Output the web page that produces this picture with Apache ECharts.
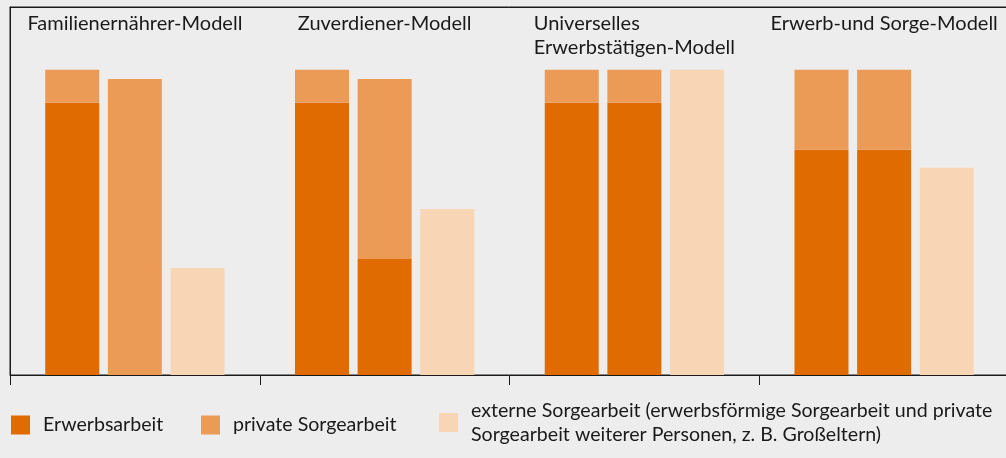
<!DOCTYPE html>
<html>
<head>
<meta charset="utf-8">
<script src="https://cdn.jsdelivr.net/npm/echarts@6/dist/echarts.min.js"></script>
<style>
html,body{margin:0;padding:0;background:#ededed;}
#c{width:1006px;height:458px;}
</style>
</head>
<body>
<div id="c"></div>
<script>
const categories = ['Familienernährer-Modell', 'Zuverdiener-Modell', 'Universelles\nErwerbstätigen-Modell', 'Erwerb-und Sorge-Modell'];
const seriesNames = ['Erwerbsarbeit', 'private Sorgearbeit', 'externe Sorgearbeit (erwerbsförmige Sorgearbeit und private\nSorgearbeit weiterer Personen, z. B. Großeltern)'];
// Bar 1 of each group (stacked)
const erwerb1 = [89.2, 89.2, 89.2, 73.8];
const privat1 = [10.8, 10.8, 10.8, 26.2];
// Bar 2 of each group (stacked)
const erwerb2 = [null, 38.0, 89.2, 73.8];
const privat2 = [97.0, 59.0, 10.8, 26.2];
// Bar 3 of each group
const extern3 = [35.1, 54.4, 100, 67.9];

const C_ERW = '#e06b00', C_PRIV = '#ec9b57', C_EXT = '#f8d5b5';
const TXT = '#1a1a1a';
const FONT = 'Lato';
const LFS = 19.6;

const chart = echarts.init(document.getElementById('c'), null, {renderer: 'canvas'});

function legendAt(left, top, name, color, pad) {
  return {
    show: true, left: left, top: top, orient: 'horizontal', padding: 0,
    itemWidth: 19, itemHeight: 19, itemGap: 0, selectedMode: false,
    icon: 'rect',
    data: [{name: name, itemStyle: {color: color}}],
    textStyle: {fontFamily: FONT, fontSize: LFS, color: TXT, padding: pad, lineHeight: 24}
  };
}

const barCommon = {type: 'bar', barWidth: 54, barGap: '16%', emphasis: {disabled: true}, animation: false};

chart.setOption({
  backgroundColor: '#ededed',
  animation: false,
  textStyle: {fontFamily: FONT},
  grid: {left: 10, top: 7, width: 999, height: 368, outerBoundsMode: 'none', containLabel: false,
         show: true, backgroundColor: 'transparent', borderColor: TXT, borderWidth: 1},
  legend: [
    legendAt(11, 413, seriesNames[0], C_ERW, [0, 0, 0, 8]),
    legendAt(201, 413, seriesNames[1], C_PRIV, [0, 0, 0, 8]),
    legendAt(439, 386.5, seriesNames[2], C_EXT, [24, 0, 0, 8])
  ],
  xAxis: [{
    type: 'category', data: categories, position: 'bottom',
    axisLine: {show: true, onZero: false, lineStyle: {color: TXT, width: 1}},
    axisTick: {show: true, length: 10, lineStyle: {color: TXT, width: 1}},
    axisLabel: {show: false}
  }, {
    type: 'category', data: categories, position: 'top',
    axisLine: {show: true, onZero: false, lineStyle: {color: TXT, width: 1}},
    axisTick: {show: false},
    axisLabel: {
      show: true, inside: true, margin: 5, verticalAlign: 'top', align: 'center',
      fontFamily: FONT, fontSize: 20, color: TXT, lineHeight: 24, interval: 0,
      formatter: function (v) { return v.split('\n').map(function (s) { return '{a|' + s + '}'; }).join('\n'); },
      rich: {a: {fontFamily: FONT, fontSize: 20, color: TXT, lineHeight: 24, align: 'left'}}
    }
  }],
  yAxis: {
    type: 'value', min: 0, max: 120.6,
    axisLine: {show: true, onZero: false, lineStyle: {color: TXT, width: 1}},
    axisTick: {show: false}, axisLabel: {show: false}, splitLine: {show: false}
  },
  series: [
    Object.assign({name: seriesNames[0], stack: 'a', data: erwerb1, itemStyle: {color: C_ERW}}, barCommon),
    Object.assign({name: seriesNames[1], stack: 'a', data: privat1, itemStyle: {color: C_PRIV}}, barCommon),
    Object.assign({name: seriesNames[0], stack: 'b', data: erwerb2, itemStyle: {color: C_ERW}}, barCommon),
    Object.assign({name: seriesNames[1], stack: 'b', data: privat2, itemStyle: {color: C_PRIV}}, barCommon),
    Object.assign({name: seriesNames[2], stack: 'c', data: extern3, itemStyle: {color: C_EXT}}, barCommon)
  ]
});
</script>
</body>
</html>
